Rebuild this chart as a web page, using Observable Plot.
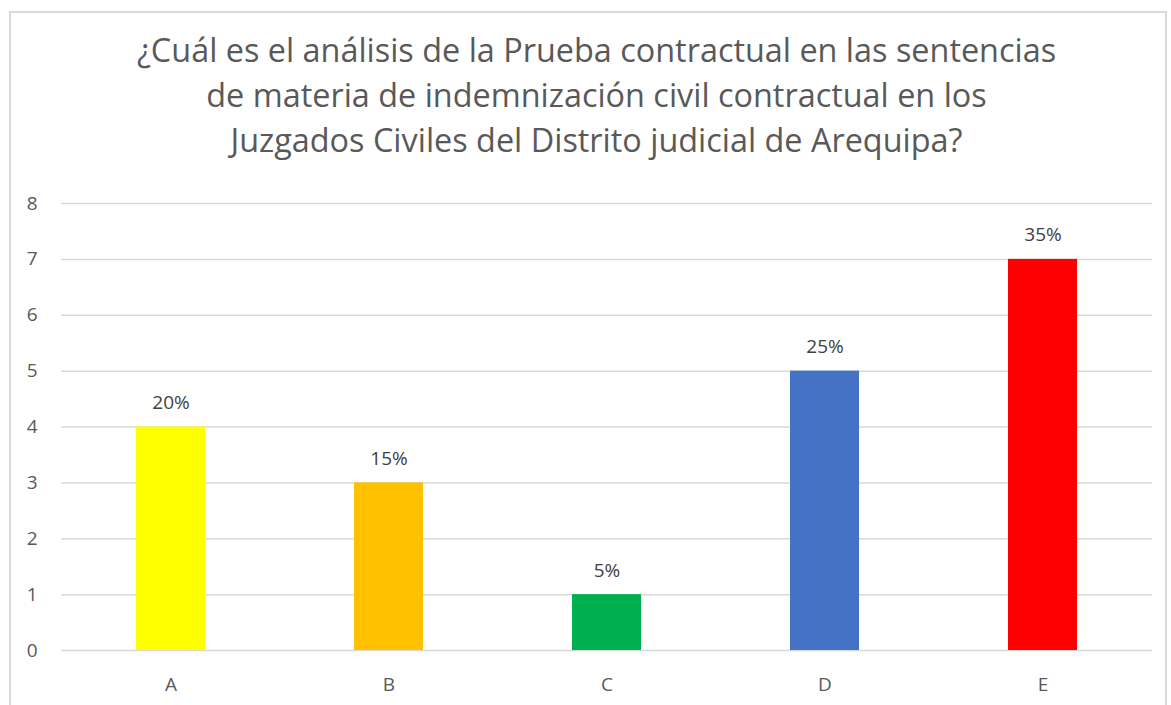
<!DOCTYPE html>
<html>
<head>
<meta charset="utf-8">
<script src="https://cdn.jsdelivr.net/npm/d3@7"></script>
<script src="https://cdn.jsdelivr.net/npm/@observablehq/plot@0.6"></script>
<style>
  html, body { margin: 0; padding: 0; background: #fff; overflow: hidden; }
  #frame { position: absolute; left: 9px; top: 11px; width: 1158px; height: 720px; border: 2px solid #d9d9d9; box-sizing: border-box; }
  #title { position: absolute; left: 0; top: 27px; width: 1193px; text-align: center; font-family: "Open Sans", sans-serif; font-size: 32.4px; line-height: 45px; color: #595959; }
  #chart { position: absolute; left: 0; top: 150px; }
</style>
</head>
<body>
<div id="frame"></div>
<div id="title">¿Cuál es el análisis de la Prueba contractual en las sentencias<br>de materia de indemnización civil contractual en los<br>Juzgados Civiles del Distrito judicial de Arequipa?</div>
<div id="chart"></div>
<script>
const categories = ["A", "B", "C", "D", "E"];
const values = [4, 3, 1, 5, 7];
const percentLabels = ["20%", "15%", "5%", "25%", "35%"];
const barColors = ["#FFFF00", "#FFC000", "#00B050", "#4472C4", "#FF0000"];
const yTicks = [0, 1, 2, 3, 4, 5, 6, 7, 8];

const data = categories.map((c, i) => ({cat: c, value: values[i], label: percentLabels[i], color: barColors[i]}));

const chart = Plot.plot({
  width: 1171,
  height: 555,
  marginTop: 53,
  marginBottom: 55,
  marginLeft: 61,
  marginRight: 19,
  style: {fontFamily: "'Open Sans', sans-serif", fontSize: "19px", color: "#595959", background: "transparent"},
  x: {domain: categories, paddingInner: 0.684, paddingOuter: 0.342, label: null},
  y: {domain: [0, 8], ticks: yTicks, label: null},
  marks: [
    Plot.ruleY(yTicks, {stroke: "#d9d9d9", strokeWidth: 1.5}),
    Plot.barY(data, {x: "cat", y: "value", fill: "color"}),
    Plot.text(data, {x: "cat", y: "value", text: "label", dy: -24, fill: "#404040", fontSize: 19}),
    Plot.axisY({ticks: yTicks, tickSize: 0, tickPadding: 24, fontSize: 19, fill: "#595959"}),
    Plot.axisX({tickSize: 0, tickPadding: 27, fontSize: 19, fill: "#595959"})
  ]
});
document.getElementById("chart").appendChild(chart);
</script>
</body>
</html>
